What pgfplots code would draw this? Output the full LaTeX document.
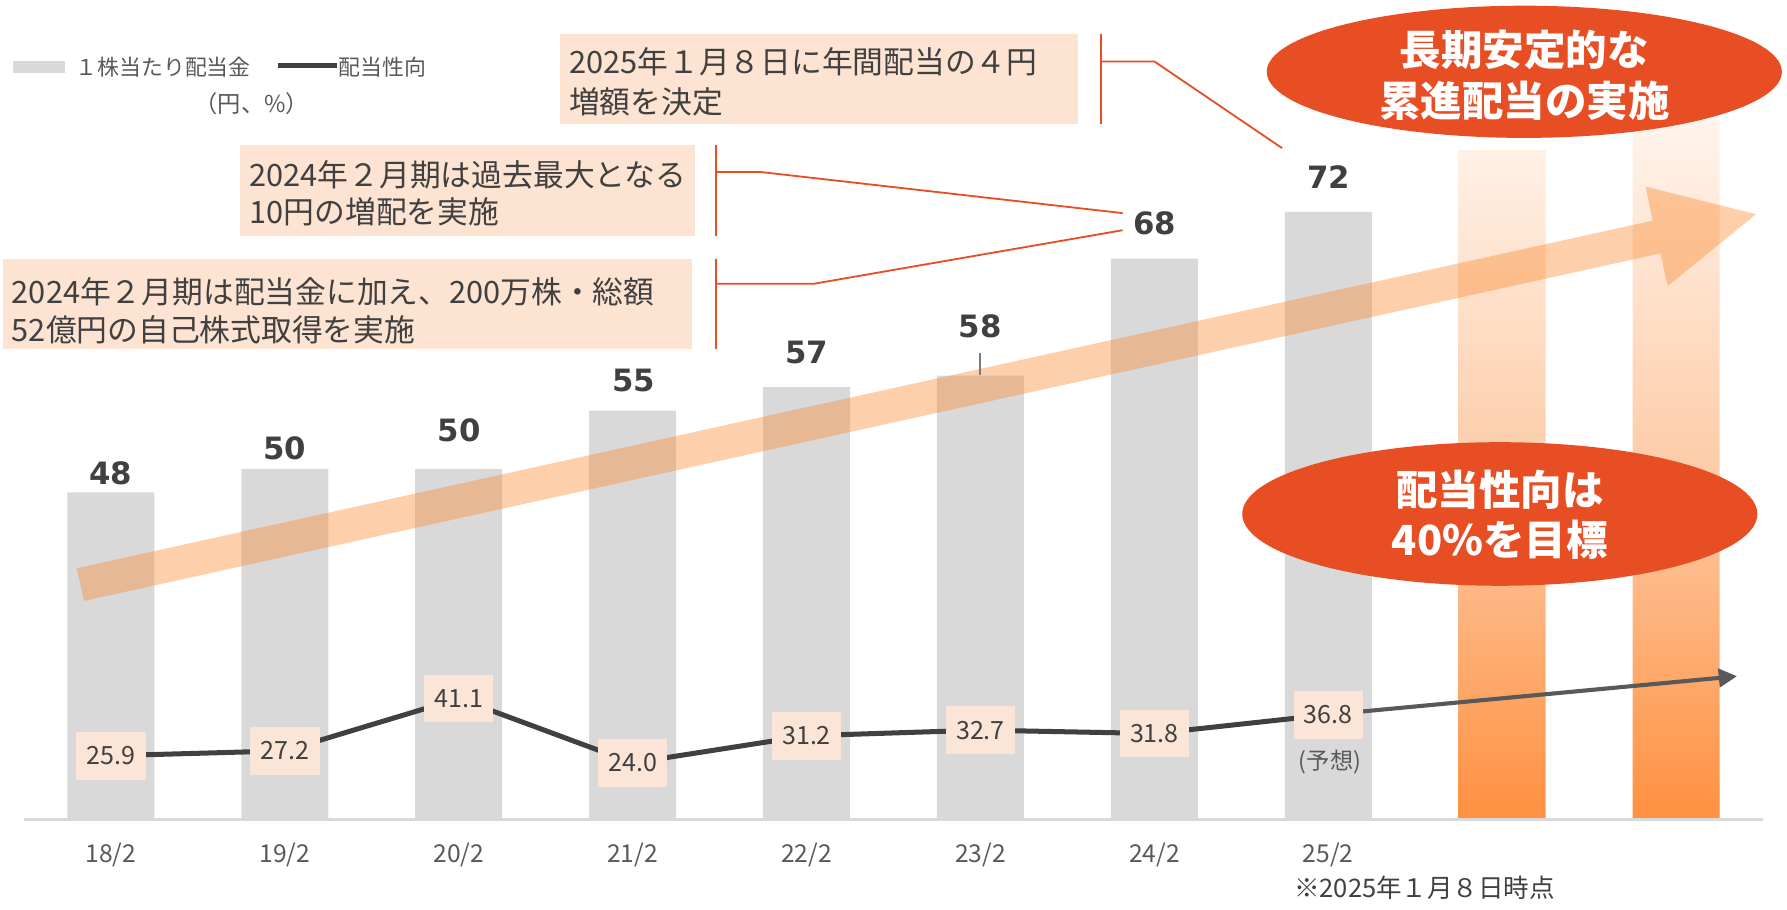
\documentclass[border=0pt]{standalone}
\usepackage{fontspec}
\setmainfont{Noto Sans CJK JP}
\newfontfamily\numfont{DejaVu Sans}
\usepackage{pgfplots}
\pgfplotsset{compat=1.18}
\usetikzlibrary{arrows.meta}
\definecolor{barGray}{HTML}{D9D9D9}
\definecolor{axisGray}{HTML}{D9D9D9}
\definecolor{lineDark}{HTML}{404040}
\definecolor{arrowDark}{HTML}{595959}
\definecolor{txtDark}{HTML}{404040}
\definecolor{txtGray}{HTML}{595959}
\definecolor{peach}{HTML}{FBE5D6}
\definecolor{boxPeach}{HTML}{FDE4D2}
\definecolor{redOr}{HTML}{E84E24}
\definecolor{arrowOr}{HTML}{FA8C34}
\definecolor{orTop}{HTML}{FFF4EC}
\definecolor{orMid}{HTML}{FDCCA8}
\definecolor{orBot}{HTML}{FF9040}
\begin{document}
\begin{tikzpicture}
\begin{axis}[name=main, at={(0,0)}, anchor=south west,
  scale only axis, width=763pt, height=307.5pt,
  xmin=-0.5, xmax=9.5, ymin=20, ymax=80,
  axis on top,
  axis x line=bottom, axis y line=none,
  x axis line style={-, draw=axisGray, line width=1.2pt},
  xtick={0,...,7},
  xticklabels={\mbox{18/2},\mbox{19/2},\mbox{20/2},\mbox{21/2},\mbox{22/2},\mbox{23/2},\mbox{24/2},\mbox{25/2}},
  major tick length=0pt,
  xticklabel style={font=\fontsize{10.8}{12}\selectfont, text=txtGray, yshift=-7pt},
  ytick=\empty]
\addplot[ybar, bar width=0.5, fill=barGray, draw=none] coordinates {(0,48)(1,50)(2,50)(3,55)(4,57)(5,58)(6,68)(7,72)};
\addplot[ybar, bar width=0.5, draw=none, top color=orTop, bottom color=orBot, middle color=orMid] coordinates {(8,77.3)(9,80)};
\end{axis}
\begin{axis}[at={(main.south west)}, anchor=south west,
  scale only axis, width=763pt, height=307.5pt,
  xmin=-0.5, xmax=9.5, ymin=9, ymax=195, hide axis,
  /pgf/number format/assume math mode=true]
\addplot[arrowDark, line width=1.8pt, -{Triangle[length=8pt,width=8pt]}] coordinates {(7,36.8)(9.35,47.0)};
\addplot[lineDark, line width=2.2pt, mark=none, point meta=y,
  nodes near coords={\pgfmathprintnumber[fixed,fixed zerofill,precision=1,assume math mode=true]{\pgfplotspointmeta}},
  every node near coord/.append style={anchor=center, fill=peach, minimum width=30.5pt, minimum height=21pt, inner sep=0pt, text=txtDark, font=\fontsize{11}{12}\selectfont}]
  coordinates {(0,25.9)(1,27.2)(2,41.1)(3,24.0)(4,31.2)(5,32.7)(6,31.8)(7,36.8)};
\end{axis}
\begin{scope}[shift={(main.south west)}]
\begin{scope}[x=0.5pt, y=-0.5pt, shift={(-21,-719)}]
\path (0,0) rectangle (1568,798);
% big translucent arrow
\fill[arrowOr, fill opacity=0.42] (67.3,498.6) -- (1450,193.6) -- (1444,163.8) -- (1540.8,188) -- (1463.3,251) -- (1457,222.3) -- (73.7,527.3) -- cycle;
% bar value labels
\begin{scope}[every node/.style={text=txtDark, font=\numfont\bfseries\fontsize{13.5}{15}\selectfont}]
\node at (97,415) {48};
\node at (250,393) {50};
\node at (403,378) {50};
\node at (556,334) {55};
\node at (708,309) {57};
\node at (860,286) {58};
\node at (1013,196) {68};
\node at (1166,155) {72};
\end{scope}
\draw[color=txtGray!80, line width=0.6pt] (860,310) -- (860,329);
% forecast note
\node[text=txtGray, font=\fontsize{10.2}{12}\selectfont] at (1167,669) {(予想)};
\node[text=txtDark, font=\fontsize{11.2}{12}\selectfont] at (1250,779) {※2025年１月８日時点};
% ellipses
\fill[redOr] (1337.5,63) ellipse [x radius=226, y radius=58];
\node[text=white, font=\bfseries\fontsize{18.2}{22}\selectfont, align=center] at (1337.5,66) {長期安定的な\\[0pt]累進配当の実施};
\fill[redOr] (1316,451) ellipse [x radius=226, y radius=63];
\node[text=white, font=\bfseries\fontsize{18.2}{22}\selectfont, align=center] at (1316,452) {配当性向は\\[0pt]40\%を目標};
% annotation boxes
\fill[boxPeach] (491,30) rectangle (946,109);
\node[anchor=west, text=txtDark, font=\fontsize{13.5}{17.5}\selectfont, align=left, inner sep=0pt] at (499,71.5) {2025年１月８日に年間配当の４円\\増額を決定};
\fill[boxPeach] (210.5,127) rectangle (610,207);
\node[anchor=west, text=txtDark, font=\fontsize{13.5}{16}\selectfont, align=left, inner sep=0pt] at (218.6,169.6) {2024年２月期は過去最大となる\\10円の増配を実施};
\fill[boxPeach] (3,227) rectangle (607,306.4);
\node[anchor=west, text=txtDark, font=\fontsize{13.5}{16.5}\selectfont, align=left, inner sep=0pt] at (10,272.8) {2024年２月期は配当金に加え、200万株・総額\\52億円の自己株式取得を実施};
% brackets
\begin{scope}[draw=redOr, line width=0.8pt]
\draw (966,30) -- (966,109);
\draw (966,54) -- (1013,54) -- (1125,130);
\draw (628,127) -- (628,207);
\draw (628,151) -- (668,151) -- (985,187);
\draw (628,227) -- (628,306);
\draw (628,249) -- (714,249) -- (985,202);
\end{scope}
% legend
\fill[barGray] (11.7,53.5) rectangle (57,64);
\node[anchor=west, text=txtGray, font=\fontsize{9.6}{11}\selectfont, inner sep=0pt] at (66,59) {１株当たり配当金};
\draw[lineDark, line width=2pt] (244,57.5) -- (296,57.5);
\node[anchor=west, text=txtGray, font=\fontsize{9.6}{11}\selectfont, inner sep=0pt] at (297,59) {配当性向};
\node[text=txtGray, font=\fontsize{10.2}{11}\selectfont] at (221,91) {（円、\%）};
\end{scope}
\end{scope}
\end{tikzpicture}
\end{document}
